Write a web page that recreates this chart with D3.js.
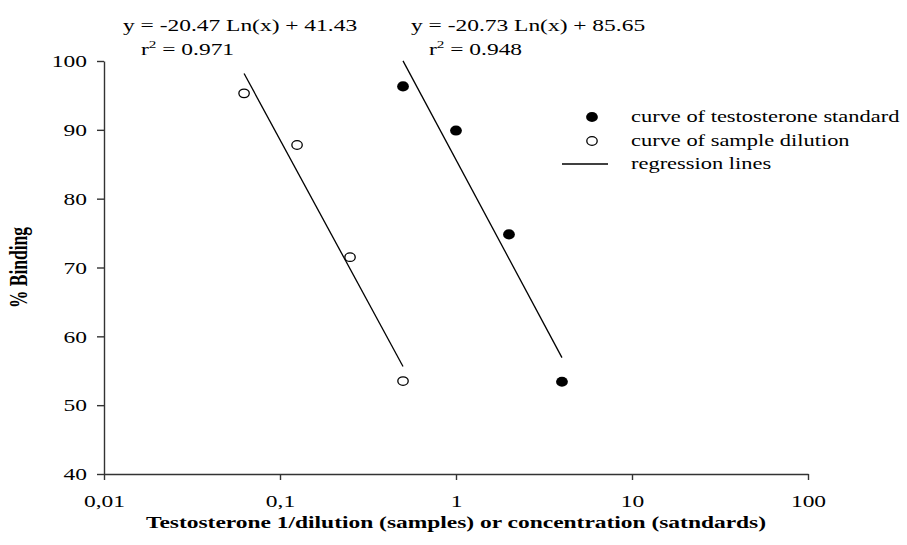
<!DOCTYPE html>
<html>
<head>
<meta charset="utf-8">
<script src="https://cdn.jsdelivr.net/npm/d3@7"></script>
<style>
  body { margin: 0; background: #fff; }
  text { font-family: "Liberation Serif", "Times New Roman", serif; fill: #000; }
</style>
</head>
<body>
<div id="vis"></div>
<script>
// sample dilution (open circles)
var sampleX = [0.0625, 0.125, 0.25, 0.5];
var sampleY = [95.3, 87.8, 71.5, 53.5];
// testosterone standard (filled circles)
var standardX = [0.5, 1, 2, 4];
var standardY = [96.3, 89.9, 74.8, 53.4];
// regression fits: y = a Ln(x) + b
var fitSample = { a: -20.47, b: 41.43, r2: "0.971", from: 0.0625, to: 0.5 };
var fitStandard = { a: -20.73, b: 85.65, r2: "0.948", from: 0.5, to: 4 };

var xTicks = [0.01, 0.1, 1, 10, 100];
var xTickLabels = ["0,01", "0,1", "1", "10", "100"];
var yTicks = [40, 50, 60, 70, 80, 90, 100];
var legendLabels = ['curve of testosterone standard', 'curve of sample dilution', 'regression lines'];

var width = 907, height = 545;
var margin = { left: 104, right: 99, top: 61, bottom: 71 };
var SX = 1.38;   // the original figure is stretched sideways
var fs = '17px';

var svg = d3.select('#vis').append('svg')
  .attr('width', width)
  .attr('height', height);

var x = d3.scaleLog().domain([0.01, 100]).range([margin.left, width - margin.right]);
var y = d3.scaleLinear().domain([40, 100]).range([height - margin.bottom, margin.top]);

var axisColor = '#333';

// put a text at (tx,ty) stretched horizontally
function stretched(parent, tx, ty, anchor, sx) {
  return parent.append('text')
    .attr('transform', 'translate(' + tx + ',' + ty + ') scale(' + (sx || SX) + ',1)')
    .attr('text-anchor', anchor || 'start')
    .style('font-size', fs);
}

// x axis
var xAxis = svg.append('g')
  .attr('transform', 'translate(0,' + y(40) + ')')
  .call(d3.axisBottom(x).tickValues(xTicks)
    .tickFormat(function (d, i) { return xTickLabels[i]; })
    .tickSize(6).tickSizeOuter(0));
xAxis.selectAll('text')
  .attr('y', 0).attr('dy', null)
  .attr('transform', 'translate(0,33) scale(' + SX + ',1)')
  .style('font-size', fs).style('font-family', '"Liberation Serif", serif');

// y axis
var yAxis = svg.append('g')
  .attr('transform', 'translate(' + x(0.01) + ',0)')
  .call(d3.axisLeft(y).tickValues(yTicks)
    .tickSize(7).tickSizeOuter(0));
yAxis.selectAll('text')
  .attr('x', 0).attr('dy', '0.34em')
  .attr('transform', 'translate(-17,0) scale(' + SX + ',1)')
  .style('font-size', fs).style('font-family', '"Liberation Serif", serif');

svg.selectAll('.domain, .tick line').attr('stroke', axisColor).attr('stroke-width', 1.4);

// axis titles
stretched(svg, (x(0.01) + x(100)) / 2, 528, 'middle')
  .style('font-weight', 'bold')
  .text('Testosterone 1/dilution (samples) or concentration (satndards)');

svg.append('text')
  .attr('transform', 'translate(27,' + y(70) + ') rotate(-90) scale(1,' + SX + ')')
  .attr('text-anchor', 'middle')
  .style('font-size', '17.5px')
  .style('font-weight', 'bold')
  .text('% Binding');

// regression lines
function fitLine(f) {
  return [f.from, f.to].map(function (v) { return [x(v), y(f.a * Math.log(v) + f.b)]; });
}
[fitSample, fitStandard].forEach(function (f) {
  svg.append('path')
    .attr('d', d3.line()(fitLine(f)))
    .attr('stroke', '#000')
    .attr('stroke-width', 1.3)
    .attr('fill', 'none');
});

// points (slightly wide, as in the stretched original)
svg.selectAll('.sample').data(sampleX).enter().append('ellipse')
  .attr('class', 'sample')
  .attr('cx', function (d) { return x(d); })
  .attr('cy', function (d, i) { return y(sampleY[i]); })
  .attr('rx', 5.2).attr('ry', 4.3)
  .attr('fill', '#fff')
  .attr('stroke', '#000')
  .attr('stroke-width', 1.3);

svg.selectAll('.standard').data(standardX).enter().append('ellipse')
  .attr('class', 'standard')
  .attr('cx', function (d) { return x(d); })
  .attr('cy', function (d, i) { return y(standardY[i]); })
  .attr('rx', 5.9).attr('ry', 5.1)
  .attr('fill', '#000');

// equations
function equation(f, ex, ey) {
  var sign = f.b >= 0 ? ' + ' : ' - ';
  stretched(svg, ex, ey)
    .text('y = ' + f.a.toFixed(2) + ' Ln(x)' + sign + Math.abs(f.b).toFixed(2));
  var t = stretched(svg, ex + 18, ey + 24);
  t.append('tspan').text('r');
  t.append('tspan').attr('dy', -7).style('font-size', '11px').text('2');
  t.append('tspan').attr('dy', 7).text('  = ' + f.r2);
}
equation(fitSample, 123, 31);
equation(fitStandard, 411, 31);

// legend
var lg = svg.append('g').attr('transform', 'translate(592,117)');
lg.append('ellipse').attr('cx', 0).attr('cy', 0).attr('rx', 5.9).attr('ry', 5.1).attr('fill', '#000');
lg.append('ellipse').attr('cx', 0).attr('cy', 24).attr('rx', 5.2).attr('ry', 4.3)
  .attr('fill', '#fff').attr('stroke', '#000').attr('stroke-width', 1.3);
lg.append('line').attr('x1', -30).attr('x2', 16).attr('y1', 47).attr('y2', 47)
  .attr('stroke', '#000').attr('stroke-width', 1.3);
legendLabels.forEach(function (l, i) {
  stretched(lg, 39, i * 23.5 + 5, 'start', 1.32).text(l);
});
</script>
</body>
</html>
